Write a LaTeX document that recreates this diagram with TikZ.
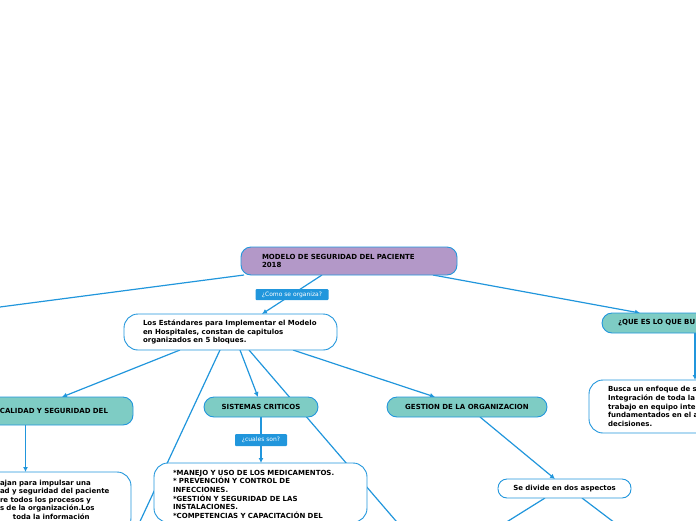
\documentclass[tikz,border=0pt]{standalone}
\usepackage{fontspec}
\setmainfont{DejaVu Sans}
\usetikzlibrary{arrows.meta,backgrounds}
\definecolor{linkblue}{HTML}{2196DC}
\definecolor{rootpurple}{HTML}{B398C8}
\definecolor{topicteal}{HTML}{7ECCC4}
\tikzset{%
  topic/.style  = {shape=rectangle, rounded corners=10pt,%
                   draw=linkblue, line width=0.9pt, align=left,%
                   inner ysep=0pt, font=\bfseries\fontsize{7}{8.6}\selectfont},%
  root/.style   = {topic, fill=rootpurple},%
  branch/.style = {topic, fill=topicteal, align=center},%
  leaf/.style   = {topic, fill=white, rounded corners=14pt},%
  rel/.style    = {fill=linkblue, text=white, inner sep=0pt, rounded corners=1pt,%
                   font=\fontsize{6}{6}\selectfont},%
  link/.style   = {draw=linkblue, line width=1.2pt},%
  tolink/.style = {link, -{Latex[length=5pt,width=5pt]}}%
}
\begin{document}
\begin{tikzpicture}[x=1pt,y=-1pt,
	every node/.style = {outer sep=0pt}]
	\useasboundingbox (0,0) rectangle (696,520);
	\clip (0,0) rectangle (696,520);
	% topics
	\node[root, minimum height=28pt, text width=174pt, inner xsep=21pt] (modelo) at (349,261)
		{MODELO DE SEGURIDAD DEL PACIENTE\\2018};
	\node[leaf, minimum height=36pt, text width=175pt, inner xsep=19pt] (estandares) at (230.5,332)
		{Los Estándares para Implementar el Modelo\\en Hospitales, constan de capitulos\\organizados en 5 bloques.};
	\node[branch, align=right, minimum height=28pt, text width=183pt, inner xsep=25pt] (calidad) at (16.5,411)
		{CALIDAD Y SEGURIDAD DEL};
	\node[branch, minimum width=114pt, minimum height=20pt] (sistemas) at (261,407) {SISTEMAS CRITICOS};
	\node[branch, minimum width=160pt, minimum height=20pt] (gestion) at (467,407) {GESTION DE LA ORGANIZACION};
	\node[branch, align=left, minimum height=20pt, text width=166pt, inner xsep=16pt] (quees) at (701,323)
		{¿QUE ES LO QUE BU};
	\node[leaf, minimum height=53pt, text width=173pt, inner xsep=19pt] (busca) at (694.5,406.5)
		{Busca un enfoque de s\\Integración de toda la\\trabajo en equipo inter\\fundamentados en el a\\decisiones.};
	\node[leaf, anchor=north, text width=111pt, inner xsep=20pt, inner ysep=7pt, text depth=40pt] (trabajan) at (55.5,472)
		{\begin{tabular}[t]{@{}l@{}}ajan para impulsar una\\ad y seguridad del paciente\\re todos los procesos y\\s de la organización.Los\\\hspace*{13pt}toda la información\end{tabular}};
	\node[leaf, anchor=north, text width=175pt, inner xsep=19pt, inner ysep=7pt, text depth=40pt] (criticos) at (260.5,463)
		{*MANEJO Y USO DE LOS MEDICAMENTOS.\\{}* PREVENCIÓN Y CONTROL DE\\INFECCIONES.\\{}*GESTIÓN Y SEGURIDAD DE LAS\\INSTALACIONES.\\{}*COMPETENCIAS Y CAPACITACIÓN DEL};
	\node[leaf, rounded corners=9pt, align=center, minimum width=133pt, minimum height=19pt] (divide) at (564.5,488.5)
		{Se divide en dos aspectos};
	% loose ends
	\coordinate (offleft) at (-10,308.3);
	\coordinate (offbl) at (136,530);
	\coordinate (offbr) at (402,528);
	\coordinate (offd1) at (505,523);
	\coordinate (offd2) at (615,523);
	% connectors
	\begin{scope}[on background layer]
		\clip (0,0) rectangle (696,520);
		\draw[tolink] ([xshift=-27pt]modelo.south) -- node[rel, minimum width=73pt, minimum height=11pt] {¿Como se organiza?} ([xshift=31.5pt]estandares.north);
		\draw[link] ([xshift=-105pt]modelo.south) -- (offleft);
		\draw[tolink] ([xshift=84pt]modelo.south) -- ([xshift=-61pt]quees.north);
		\draw[tolink] ([xshift=-6pt]quees.south) -- ([xshift=0.5pt]busca.north);
		\draw[tolink] ([xshift=-50.5pt]estandares.south) -- ([xshift=45.5pt]calidad.north);
		\draw[link] ([xshift=-10.5pt]estandares.south) -- (offbl);
		\draw[tolink] ([xshift=9.5pt]estandares.south) -- ([xshift=-3pt]sistemas.north);
		\draw[link] ([xshift=18.5pt]estandares.south) -- (offbr);
		\draw[tolink] ([xshift=62.5pt]estandares.south) -- ([xshift=-32pt]gestion.north);
		\draw[tolink] ([xshift=13pt]gestion.south) -- ([xshift=-9.5pt]divide.north);
		\draw[link] ([xshift=-19.5pt]divide.south) -- (offd1);
		\draw[link] ([xshift=17.5pt]divide.south) -- (offd2);
		\draw[tolink] ([xshift=9pt]calidad.south) -- ([xshift=-30pt]trabajan.north);
		\draw[tolink] (sistemas.south) -- node[rel, minimum width=52pt, minimum height=12pt] {¿cuales son?} (sistemas.south |- criticos.north);
	\end{scope}
\end{tikzpicture}
\end{document}
